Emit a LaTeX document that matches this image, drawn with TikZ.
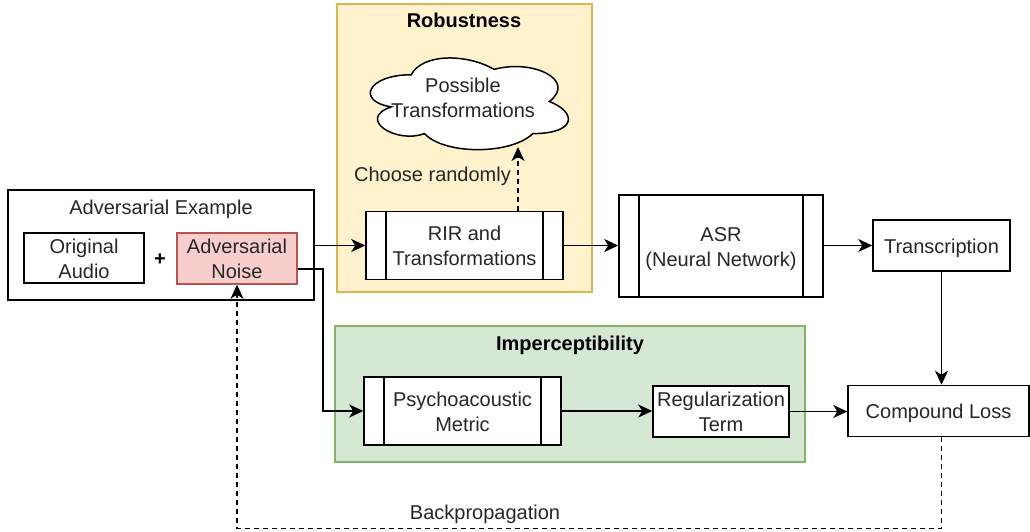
\documentclass[tikz,border=0pt]{standalone}
\usepackage{fontspec}
\setmainfont{Liberation Sans}
\usetikzlibrary{arrows.meta,calc}
\definecolor{pinkfill}{HTML}{F8CECC}
\definecolor{pinkline}{HTML}{B85450}
\definecolor{yelfill}{HTML}{FFF2CC}
\definecolor{yelline}{HTML}{D6B656}
\definecolor{grnfill}{HTML}{D5E8D4}
\definecolor{grnline}{HTML}{82B366}
\newcommand{\topstrut}{\rule{0pt}{20pt}}
\newcommand{\botstrut}{\rule[-4.6pt]{0pt}{0pt}}
\newcommand{\twol}[2]{\topstrut #1\\#2\botstrut}
\tikzset{
  plain/.style={font=\fontsize{20}{25}\selectfont, align=center, inner sep=0pt, text=black!85},
  struts/.style={execute at begin node=\topstrut, execute at end node=\botstrut},
  txt/.style={plain, struts},
  ttl/.style={txt, font=\fontsize{20}{25}\selectfont\bfseries, text=black},
  framed/.style={draw=black, line width=1.5pt, fill=white, rectangle},
  box/.style={txt, framed},
  mbox/.style={plain, framed},
  proc/.style={mbox, path picture={
      \draw[line width=1.5pt] ([xshift=20pt]path picture bounding box.north west) -- ([xshift=20pt]path picture bounding box.south west);
      \draw[line width=1.5pt] ([xshift=-20pt]path picture bounding box.north east) -- ([xshift=-20pt]path picture bounding box.south east);}},
  group/.style={rectangle, line width=1.4pt, inner sep=0pt},
  arr/.style={line width=1.8pt, -{Stealth[length=14pt,width=13pt,inset=4pt]}},
  darr/.style={line width=1.5pt, -{Stealth[length=14pt,width=13pt,inset=4pt]}, dash pattern=on 5pt off 4pt},
}
\begin{document}
\begin{tikzpicture}[x=1pt,y=-1pt]
\useasboundingbox (0,0) rectangle (1030,531);
% groups
\node[group, draw=yelline, fill=yelfill, minimum width=255pt, minimum height=288pt] (rob) at (464.5,148) {};
\node[ttl] (robt) at (464,20) {Robustness};
\node[group, draw=grnline, fill=grnfill, minimum width=470pt, minimum height=136pt] (imp) at (570,394) {};
\node[ttl] (impt) at (570,343) {Imperceptibility};
% adversarial example
\node[box, minimum width=306pt, minimum height=110pt] (adv) at (161,245) {};
\node[txt] (advt) at (161,207) {Adversarial Example};
\node[mbox, minimum width=120pt, minimum height=50pt] (orig) at (84,258) {\twol{Original}{Audio}};
\node[ttl] (plus) at (160,258) {+};
\node[mbox, draw=pinkline, fill=pinkfill, minimum width=120pt, minimum height=51pt] (noise) at (237,258.5) {\twol{Adversarial}{Noise}};
% cloud
\draw[line width=1.5pt, fill=white] (411.25,74.75)
  .. controls (367.05,74.75) and (356,101.5) .. (391.36,106.85)
  .. controls (356,118.62) and (395.78,144.3) .. (424.51,133.6)
  .. controls (444.4,155) and (510.7,155) .. (532.8,133.6)
  .. controls (577,133.6) and (577,112.2) .. (549.375,101.5)
  .. controls (577,80.1) and (532.8,58.7) .. (494.125,69.4)
  .. controls (466.5,53.35) and (422.3,53.35) .. (411.25,74.75) -- cycle;
\node[plain] (cloud) at (463,97) {\twol{Possible}{Transformations}};
\coordinate (cloudb) at (518,147);
\node[txt] (choose) at (432.5,173.5) {Choose randomly};
% processes
\node[proc, minimum width=197pt, minimum height=68pt] (rir) at (464.5,245.5) {\twol{RIR and}{Transformations}};
\node[proc, minimum width=204pt, minimum height=102pt] (asr) at (721,246) {\twol{ASR}{(Neural Network)}};
\node[box, minimum width=137pt, minimum height=51pt] (trans) at (941.5,245.5) {Transcription};
\node[box, minimum width=181pt, minimum height=51pt] (comp) at (938.5,411) {Compound Loss};
\node[proc, minimum width=197pt, minimum height=68pt] (psy) at (462.5,411) {\twol{Psychoacoustic}{Metric}};
\node[mbox, minimum width=136pt, minimum height=51pt] (reg) at (721,411.5) {\twol{Regularization}{Term}};
\node[txt] (bp) at (485,512) {Backpropagation};
\coordinate (bend) at (323,0);
% connectors
\draw[arr] (adv.east |- rir.west) -- (rir.west);
\draw[arr] (rir.east) -- (rir.east -| asr.west);
\draw[arr] (asr.east |- trans.west) -- (trans.west);
\draw[arr] (trans.south) -- (trans.south |- comp.north);
\draw[darr] (rir.north -| cloudb) -- (cloudb);
\draw[arr] ([yshift=-10.5pt]noise.east) -| (bend |- psy.west) -- (psy.west);
\draw[arr] (psy.east) -- (psy.east -| reg.west);
\draw[arr] (reg.east) -- (reg.east -| comp.west);
\draw[darr] ([xshift=3pt]comp.south) -- ++(0,91) -| (noise.south);
\end{tikzpicture}
\end{document}
